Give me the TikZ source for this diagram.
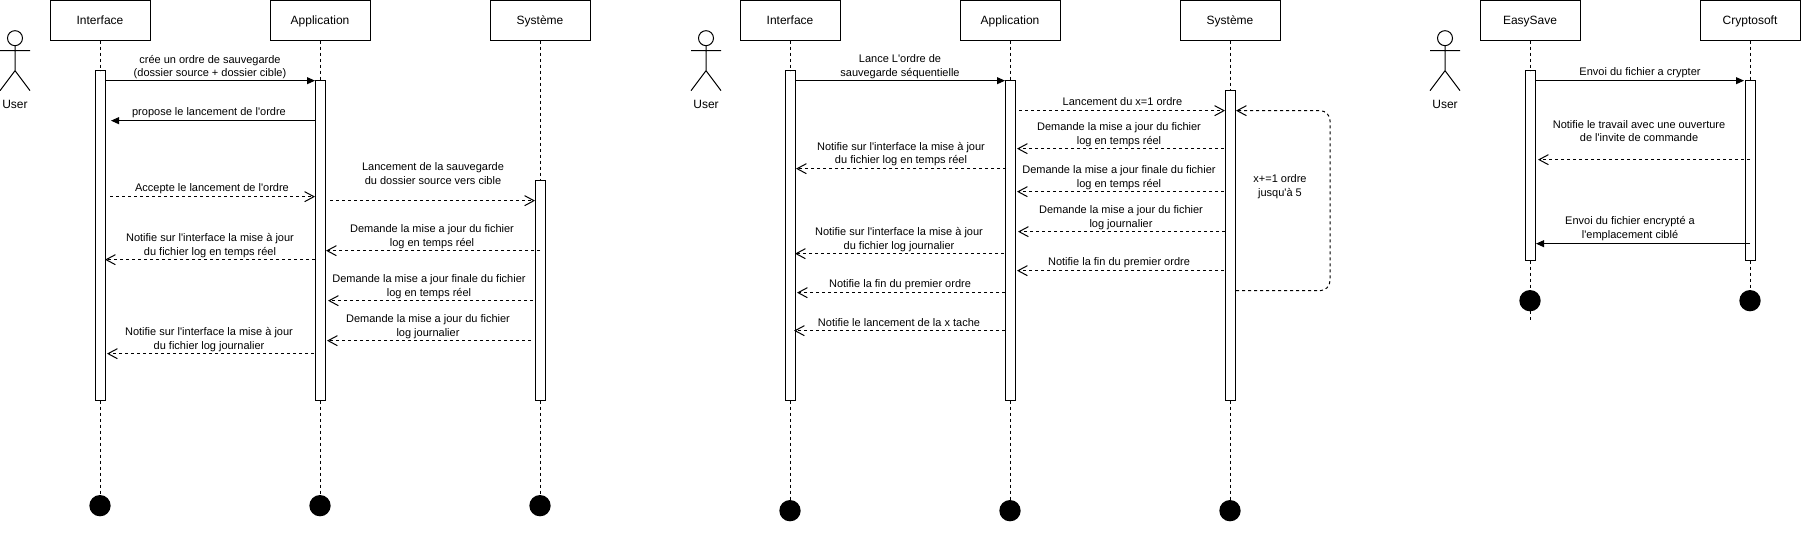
\documentclass[tikz,border=0pt]{standalone}
\usepackage{fontspec}
\newfontfamily\drawfont{Liberation Sans}[Ligatures=NoCommon]
\usetikzlibrary{arrows.meta}

\tikzset{
    box/.style={draw, fill=white, minimum width=75pt, minimum height=30pt, inner sep=0pt, outer sep=0pt, text height=8pt, text depth=1.5pt},
    bar/.style={draw, fill=white, anchor=north, minimum width=7.5pt, minimum height=#1*0.75pt, inner sep=0pt, outer sep=0pt},
    stop/.style={circle, fill=black, minimum size=16pt, inner sep=0pt, outer sep=0pt},
    txt/.style={align=center, inner sep=0pt},
    msgtxt/.style={txt, yshift=-1pt, font=\drawfont\fontsize{8.25}{10}\selectfont},
    lifeline/.style={dash pattern=on 2.25pt off 2.25pt},
    call/.style={-{Triangle[length=6pt,width=5.2pt]}},
    back/.style={dash pattern=on 2.25pt off 2.25pt, -{Straight Barb[length=7pt,width=7.5pt]}},
    pics/stickman/.style={code={
        \draw (15,37.5) circle [radius=7.5];
        \draw (15,45) -- (15,70) (0,50) -- (30,50) (0,90) -- (15,70) -- (30,90);
    }}
}

\begin{document}
\begin{tikzpicture}[x=.75pt, y=-.75pt, line width=.75pt, font=\drawfont\fontsize{9}{10}\selectfont]
    \useasboundingbox [fill=white] (0,0) rectangle (1801,535);

    \begin{scope}[yshift=-.5pt]
    % first diagram
    \pic at (0,0) {stickman};
    \node (user1) [txt] at (15,104) {User};
    \node (iface1) [box] at (100,20) {Interface};
    \node (app1) [box] at (320,20) {Application};
    \node (sys1) [box] at (540,20) {Système};
    \node (bariface1) [bar=330] at (100,70) {};
    \node (barapp1) [bar=320] at (320,80) {};
    \node (barsys1) [bar=220] at (540,180) {};
    \node (stopiface1) [stop] at (100,505) {};
    \node (stopapp1) [stop] at (320,505) {};
    \node (stopsys1) [stop] at (540,505) {};

    \path[lifeline]
    (iface1) edge (bariface1) (bariface1) edge (stopiface1)
    (app1) edge (barapp1) (barapp1) edge (stopapp1)
    (sys1) edge (barsys1) (barsys1) edge (stopsys1);

    \coordinate (a1) at (105,80);   \coordinate (b1) at (315,80);
    \coordinate (a2) at (315,120);  \coordinate (b2) at (111,120);
    \coordinate (a3) at (110,196);  \coordinate (b3) at (315,196);
    \coordinate (a4) at (330,200);  \coordinate (b4) at (535,200);
    \coordinate (a5) at (540,250);  \coordinate (b5) at (326,250);
    \coordinate (a6) at (315,259);  \coordinate (b6) at (105,259);
    \coordinate (a7) at (533,300);  \coordinate (b7) at (328,300);
    \coordinate (a8) at (531,340);  \coordinate (b8) at (327,340);
    \coordinate (a9) at (314,353);  \coordinate (b9) at (107,353);

    \path[call] (a1) edge (b1) (a2) edge (b2);
    \path[back]
    (a3) edge (b3) (a4) edge (b4) (a5) edge (b5) (a6) edge (b6)
    (a7) edge (b7) (a8) edge (b8) (a9) edge (b9);

    \node (t1) [msgtxt] at (210,65) {crée un ordre de sauvegarde\\(dossier source + dossier cible)};
    \node (t2) [msgtxt] at (209,111) {propose le lancement de l'ordre};
    \node (t3) [msgtxt] at (212,187) {Accepte le lancement de l'ordre};
    \node (t4) [msgtxt] at (433,171.5) {Lancement de la sauvegarde\\du dossier source vers cible};
    \node (t5) [msgtxt] at (432,234.5) {Demande la mise a jour du fichier\\log en temps réel};
    \node (t6) [msgtxt] at (210,243.5) {Notifie sur l'interface la mise à jour\\du fichier log en temps réel};
    \node (t7) [msgtxt] at (429,284.5) {Demande la mise a jour finale du fichier\\log en temps réel};
    \node (t8) [msgtxt] at (428,324.5) {Demande la mise a jour du fichier\\log journalier};
    \node (t9) [msgtxt] at (209,337.5) {Notifie sur l'interface la mise à jour\\du fichier log journalier};

    % second diagram
    \pic at (691,0) {stickman};
    \node (user2) [txt] at (706,104) {User};
    \node (iface2) [box] at (790,20) {Interface};
    \node (app2) [box] at (1010,20) {Application};
    \node (sys2) [box] at (1230,20) {Système};
    \node (bariface2) [bar=330] at (790,70) {};
    \node (barapp2) [bar=320] at (1010,80) {};
    \node (barsys2) [bar=310] at (1230,90) {};
    \node (stopiface2) [stop] at (790,510) {};
    \node (stopapp2) [stop] at (1010,510) {};
    \node (stopsys2) [stop] at (1230,510) {};

    \path[lifeline]
    (iface2) edge (bariface2) (bariface2) edge (stopiface2)
    (app2) edge (barapp2) (barapp2) edge (stopapp2)
    (sys2) edge (barsys2) (barsys2) edge (stopsys2);

    \coordinate (c1) at (795,80);    \coordinate (d1) at (1005,80);
    \coordinate (c2) at (1019,110);  \coordinate (d2) at (1225,110);
    \coordinate (c3) at (1224,148);  \coordinate (d3) at (1017,148);
    \coordinate (c4) at (1006,168);  \coordinate (d4) at (796,168);
    \coordinate (c5) at (1224,191);  \coordinate (d5) at (1017,191);
    \coordinate (c6) at (1225,231);  \coordinate (d6) at (1018,231);
    \coordinate (c7) at (1004,253);  \coordinate (d7) at (795,253);
    \coordinate (c8) at (1224,270);  \coordinate (d8) at (1017,270);
    \coordinate (c9) at (1005,292);  \coordinate (d9) at (797,292);
    \coordinate (c10) at (1005,330); \coordinate (d10) at (794,330);
    \coordinate (loopa) at (1236,290);
    \coordinate (loopm) at (1330,200);
    \coordinate (loopb) at (1236,110);

    \path[call] (c1) edge (d1);
    \path[back]
    (c2) edge (d2) (c3) edge (d3) (c4) edge (d4) (c5) edge (d5) (c6) edge (d6)
    (c7) edge (d7) (c8) edge (d8) (c9) edge (d9) (c10) edge (d10);
    \draw[back, rounded corners=7.5pt] (loopa) -| (loopm) |- (loopb);

    \node (u1) [msgtxt] at (900,64.5) {Lance L'ordre de\\sauvegarde séquentielle};
    \node (u2) [msgtxt] at (1122.5,100) {Lancement du x=1 ordre};
    \node (u3) [msgtxt] at (1119,132.5) {Demande la mise a jour du fichier\\log en temps réel};
    \node (u4) [msgtxt] at (901,152) {Notifie sur l'interface la mise à jour\\du fichier log en temps réel};
    \node (u5) [msgtxt] at (1119,175.5) {Demande la mise a jour finale du fichier\\log en temps réel};
    \node (u6) [msgtxt] at (1121,215.5) {Demande la mise a jour du fichier\\log journalier};
    \node (u7) [msgtxt] at (899,237.5) {Notifie sur l'interface la mise à jour\\du fichier log journalier};
    \node (u8) [msgtxt] at (1119,261) {Notifie la fin du premier ordre};
    \node (u9) [msgtxt] at (900,283) {Notifie la fin du premier ordre};
    \node (u10) [msgtxt] at (899,321) {Notifie le lancement de la x tache};
    \node (u11) [msgtxt] at (1280,184.5) {x+=1 ordre\\jusqu'à 5};

    % third diagram
    \pic at (1430,0) {stickman};
    \node (user3) [txt] at (1445,104) {User};
    \node (easy) [box] at (1530,20) {EasySave};
    \node (crypto) [box] at (1750,20) {Cryptosoft};
    \node (bareasy) [bar=190] at (1530,70) {};
    \node (barcrypto) [bar=180] at (1750,80) {};
    \node (stopeasy) [stop] at (1530,300) {};
    \node (stopcrypto) [stop] at (1750,300) {};
    \coordinate (taileasy) at (1530,320);

    \path[lifeline]
    (easy) edge (bareasy) (bareasy) edge (stopeasy) (stopeasy) edge (taileasy)
    (crypto) edge (barcrypto) (barcrypto) edge (stopcrypto);

    \coordinate (e1) at (1535,80);  \coordinate (f1) at (1744,80);
    \coordinate (e2) at (1750,159); \coordinate (f2) at (1538,159);
    \coordinate (e3) at (1750,243); \coordinate (f3) at (1536,243);

    \path[call] (e1) edge (f1) (e3) edge (f3);
    \path[back] (e2) edge (f2);

    \node (v1) [msgtxt] at (1640,71) {Envoi du fichier a crypter};
    \node (v2) [msgtxt] at (1639,129) {Notifie le travail avec une ouverture\\de l'invite de commande};
    \node (v3) [msgtxt] at (1630,226.5) {Envoi du fichier encrypté a\\l'emplacement ciblé};
    \end{scope}

\end{tikzpicture}
\end{document}
